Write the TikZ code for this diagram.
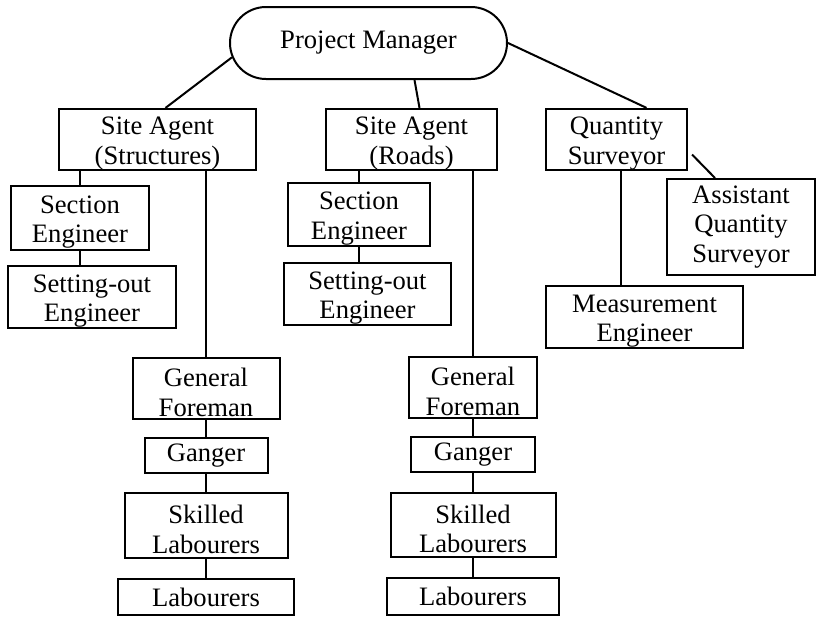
\documentclass[tikz,border=0pt]{standalone}
\usepackage{fontspec}
\setmainfont{Liberation Serif}
\usepackage{tikz}
\usetikzlibrary{positioning, shapes.misc}

\newcommand{\topstrut}{\rule{0pt}{26pt}}

\tikzset{
  post/.style={draw, line width=2pt, align=center, inner sep=0pt,
    font=\fontsize{26.6}{29.5}\selectfont},
  head/.style={post, rounded rectangle},
  link/.style={line width=2pt}
}

\begin{document}
\begin{tikzpicture}[x=1pt, y=-1pt]
\useasboundingbox (0,0) rectangle (816,616);

% Top
\node[head, minimum width=277pt, minimum height=72pt] (pm) at (368.5,43) {Project Manager};

% Site agents and surveyor
\node[post, minimum width=197pt, minimum height=61pt] (sas) at (157.5,139.5) {\topstrut Site Agent\\(Structures)};
\node[post, minimum width=171pt, minimum height=61pt] (sar) at (411.5,139.5) {\topstrut Site Agent\\(Roads)};
\node[post, minimum width=141pt, minimum height=61pt] (qs) at (616.5,139.5) {\topstrut Quantity\\Surveyor};

% Engineers
\node[post, minimum width=138pt, minimum height=64pt] (ses) at (80,218) {\topstrut Section\\Engineer};
\node[post, minimum width=168pt, minimum height=62pt] (sos) at (92,297) {\topstrut Setting-out\\Engineer};
\node[post, minimum width=142pt, minimum height=63pt] (ser) at (359,214.5) {\topstrut Section\\Engineer};
\node[post, minimum width=167pt, minimum height=62pt] (sor) at (367.5,294) {\topstrut Setting-out\\Engineer};
\node[post, minimum width=148pt, minimum height=96pt] (aqs) at (741,227) {Assistant\\Quantity\\Surveyor};
\node[post, minimum width=197pt, minimum height=60pt] (me) at (644.5,317) {\topstrut Measurement\\Engineer};

% Structures gang
\node[post, minimum width=147pt, minimum height=61pt] (gfs) at (206,388.5) {\topstrut General\\Foreman};
\node[post, minimum width=123pt, minimum height=35pt] (gas) at (206,455.5) {Ganger};
\node[post, minimum width=163pt, minimum height=65pt] (sls) at (206,525.5) {\topstrut Skilled\\Labourers};
\node[post, minimum width=176pt, minimum height=36pt] (las) at (206,597) {Labourers};

% Roads gang
\node[post, minimum width=128pt, minimum height=61pt] (gfr) at (473,387.5) {\topstrut General\\Foreman};
\node[post, minimum width=124pt, minimum height=35pt] (gar) at (473,454.5) {Ganger};
\node[post, minimum width=165pt, minimum height=64pt] (slr) at (473,525) {\topstrut Skilled\\Labourers};
\node[post, minimum width=172pt, minimum height=37pt] (lar) at (473,596.5) {Labourers};

% Links from the manager
\draw[link] (pm.186) -- ([xshift=8pt]sas.north);
\draw[link] ([xshift=46pt]pm.south) -- ([xshift=8pt]sar.north);
\draw[link] (pm.east) -- ([xshift=30pt]qs.north);

% Structures side
\draw[link] (ses.north |- sas.south) -- (ses.north);
\draw[link] (ses.south) -- (ses.south |- sos.north);
\draw[link] (gfs.north |- sas.south) -- (gfs.north);
\draw[link] (gfs) -- (gas);
\draw[link] (gas) -- (sls);
\draw[link] (sls) -- (las);

% Roads side
\draw[link] (ser.north |- sar.south) -- (ser.north);
\draw[link] (ser.south) -- (ser.south |- sor.north);
\draw[link] (gfr.north |- sar.south) -- (gfr.north);
\draw[link] (gfr) -- (gar);
\draw[link] (gar) -- (slr);
\draw[link] (slr) -- (lar);

% Surveyor side
\draw[link] ([xshift=4pt]qs.south) -- ([xshift=4pt]qs.south |- me.north);
\draw[link] ([xshift=4pt,yshift=-15pt]qs.east) -- ([xshift=-26pt]aqs.north);
\end{tikzpicture}
\end{document}
